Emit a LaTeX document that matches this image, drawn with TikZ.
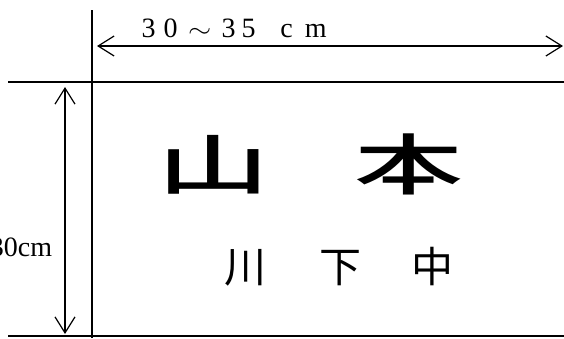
\documentclass[tikz,border=0pt]{standalone}
\usepackage{fontspec}
\newfontfamily\cjk{Noto Sans CJK JP}
\newfontfamily\cjkm{Noto Sans CJK JP Medium}
\newfontfamily\lser{Liberation Serif}
\usetikzlibrary{arrows.meta}
\newcommand{\putch}[2]{\rlap{\hspace{#1pt}\makebox[0pt]{#2}}}
\tikzset{
  rule/.style={line width=1.2pt},
  dim/.style={line width=1.2pt, {Straight Barb[length=16pt,width=20pt,line width=1.2pt]}-{Straight Barb[length=16pt,width=20pt,line width=1.2pt]}},
  lbl/.style={inner sep=0pt, anchor=base, font=\lser\fontsize{28}{32}\selectfont},
  big/.style={inner sep=0pt, anchor=base, font=\cjkm\fontsize{66}{72}\selectfont},
  small/.style={inner sep=0pt, anchor=base, font=\cjk\fontsize{42}{48}\selectfont}
}
\begin{document}
\begin{tikzpicture}[x=1pt,y=-1pt]
\useasboundingbox (0,0) rectangle (564,338);
\fill[white] (0,0) rectangle (564,338);
% frame lines
\coordinate (vt) at (92,10);
\coordinate (vb) at (92,338);
\coordinate (hl) at (8,82);
\coordinate (hr) at (564,82);
\coordinate (bl) at (8,336);
\coordinate (br) at (564,336);
\draw[rule] (vt) -- (vb);
\draw[rule] (hl) -- (hr);
\draw[rule] (bl) -- (br);
% dimension arrows
\coordinate (wa) at (97,46);
\coordinate (wb) at (563,46);
\draw[dim] (wa) -- (wb);
\coordinate (ha) at (65,87);
\coordinate (hb) at (65,334);
\draw[dim] (ha) -- (hb);
% labels
\node[lbl, anchor=base west] (wlab) at (140,37)
  {\putch{8}{3}\putch{30}{0}\putch{59}{\scalebox{1.2}[1]{$\sim$}}\putch{88}{3}\putch{108}{5}\putch{146}{c}\putch{175}{m}\hspace{190pt}};
\node[lbl] (hlab) at (21,256) {30cm};
% names
\node[big] (n1) at (214,189) {\scalebox{1.7}[1]{山}};
\node[big] (n2) at (409,189) {\scalebox{1.65}[1]{本}};
\node[small] (s1) at (245,282) {川};
\node[small] (s2) at (340,282) {下};
\node[small] (s3) at (432,282) {中};
\end{tikzpicture}
\end{document}
